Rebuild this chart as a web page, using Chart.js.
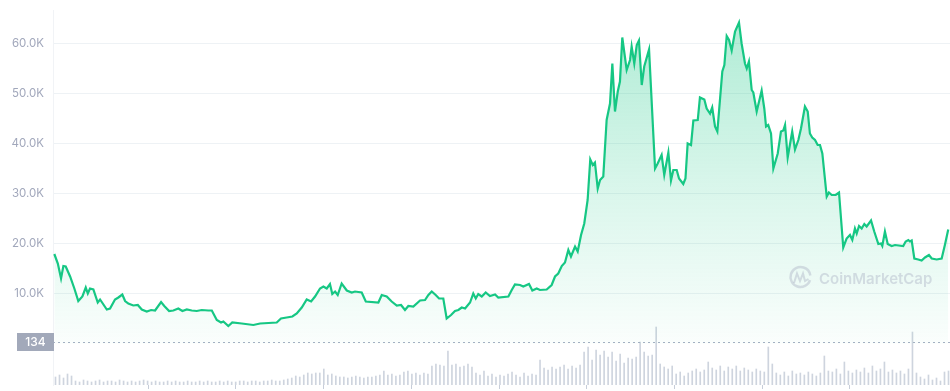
<!DOCTYPE html>
<html>
<head>
<meta charset="utf-8">
<script src="https://cdn.jsdelivr.net/npm/chart.js@4.4.1/dist/chart.umd.min.js"></script>
<style>
	html, body { margin: 0; padding: 0; background: #fff; }
	canvas { display: block; }
</style>
</head>
<body>
<canvas id="mycanvas" width="950" height="391"></canvas>
<script>
// x = months since Jan 2018, y = price in USD
var months = [
	-0.41, -0.17, 0.05, 0.21, 0.37, 0.67, 0.96, 1.23, 1.51, 1.74, 1.88, 2.03, 2.26, 2.56, 2.72,
	3.18, 3.40, 3.74, 3.97, 4.24, 4.43, 4.65, 4.99, 5.30, 5.57, 5.91, 6.21, 6.48, 6.89, 7.11,
	7.44, 7.73, 8.07, 8.35, 8.65, 8.99, 9.33, 9.67, 10.12, 10.36, 10.70, 10.99, 11.15, 11.49, 11.76,
	12.41, 13.20, 13.66, 14.80, 15.09, 15.48, 15.87, 16.17, 16.51, 16.85, 17.15, 17.42, 17.76, 17.99, 18.22,
	18.44, 18.60, 18.79, 18.97, 19.24, 19.59, 19.93, 20.15, 20.61, 20.89, 21.75, 21.98, 22.32, 22.66, 23.01,
	23.30, 23.57, 23.80, 24.14, 24.60, 24.94, 25.17, 25.40, 25.67, 25.90, 26.19, 26.42, 26.72, 26.99, 27.22,
	27.45, 27.68, 28.02, 28.24, 28.41, 28.58, 28.82, 29.09, 29.38, 29.73, 29.95, 30.64, 30.87, 31.09, 31.44,
	31.66, 32.05, 32.28, 32.58, 32.80, 33.26, 33.60, 33.83, 34.05, 34.29, 34.51, 34.74, 34.92, 35.20, 35.38,
	35.61, 35.83, 36.06, 36.24, 36.41, 36.56, 36.75, 36.91, 37.13, 37.36, 37.59, 37.75, 37.93, 38.12, 38.27,
	38.43, 38.73, 38.96, 39.07, 39.25, 39.42, 39.57, 39.76, 39.93, 40.26, 40.67, 40.85, 41.12, 41.30, 41.58,
	41.76, 41.92, 42.15, 42.31, 42.60, 42.75, 42.90, 43.13, 43.29, 43.59, 43.74, 44.04, 44.20, 44.43, 44.58,
	44.77, 44.93, 45.27, 45.41, 45.57, 45.73, 45.91, 46.14, 46.41, 46.59, 46.82, 46.94, 47.09, 47.28, 47.39,
	47.62, 47.96, 48.14, 48.26, 48.41, 48.60, 48.76, 49.06, 49.28, 49.44, 49.56, 49.74, 50.05, 50.24, 50.47,
	50.65, 50.92, 51.11, 51.26, 51.42, 51.61, 51.79, 51.95, 52.11, 52.41, 52.56, 52.75, 53.02, 53.25, 53.54,
	53.77, 54.00, 54.16, 54.34, 54.46, 54.62, 54.80, 54.98, 55.14, 55.44, 55.66, 55.94, 56.12, 56.21, 56.39,
	56.58, 56.85, 57.08, 57.64, 57.81, 57.99, 58.10, 58.22, 58.40, 58.67, 58.90, 59.13, 59.40, 59.59, 59.93,
	60.27, 60.49, 60.72
];
var prices = [
	17900, 16000, 13000, 15500, 15400, 13400, 11000, 8500, 9400, 11200, 10000, 11000, 10800, 8200, 8800,
	6800, 7000, 8800, 9200, 9800, 8500, 8000, 7600, 7700, 6800, 6400, 6700, 6600, 8300, 7500,
	6500, 6600, 7000, 6500, 6800, 6600, 6500, 6700, 6600, 6600, 4700, 4200, 4400, 3500, 4200,
	4000, 3700, 4000, 4200, 5000, 5200, 5400, 6000, 7200, 8800, 8400, 9400, 11000, 11400, 11000,
	11900, 9900, 10400, 9700, 12000, 10600, 10200, 10400, 10200, 8400, 8200, 9700, 9400, 8400, 7600,
	7700, 6700, 7500, 7400, 8600, 8700, 9700, 10400, 9700, 9000, 9000, 5000, 5700, 6500, 6700,
	7200, 7000, 8200, 10000, 9000, 9900, 9400, 10200, 9500, 9800, 9200, 9400, 10700, 11800, 11700,
	11400, 11900, 10600, 11000, 10700, 10800, 11700, 13400, 14000, 15500, 16200, 18700, 17400, 19400, 18400,
	21700, 24000, 28700, 36800, 35700, 36200, 31000, 32700, 33400, 44700, 48000, 56000, 46400, 50400, 52400,
	61200, 54700, 56700, 59400, 56000, 59700, 60600, 51700, 55400, 58800, 35000, 36000, 37700, 33700, 38200,
	32600, 34700, 34700, 33000, 31900, 33000, 40000, 39700, 44600, 44700, 49200, 48800, 47000, 46000, 47200,
	43400, 42400, 54400, 55700, 61500, 60700, 58600, 62400, 64200, 60000, 56000, 55000, 56400, 50700, 50200,
	46400, 50600, 47000, 43400, 43700, 42000, 35000, 38000, 42400, 42600, 43700, 37200, 42400, 38800, 40700,
	43000, 47400, 46400, 42000, 41200, 40700, 39700, 39700, 38000, 29400, 30200, 29700, 29700, 30200, 19200,
	21000, 21700, 20700, 23000, 22000, 23500, 23000, 23900, 23400, 24600, 22400, 19900, 20000, 19500, 22400,
	19900, 19500, 19700, 19500, 20400, 20700, 20400, 20600, 17000, 16800, 16600, 17200, 17700, 17000, 16800,
	17000, 19700, 22800
];
// volume, billions USD, one bar per period across the whole range
var volumes = [
	48, 60, 42, 66, 54,
	24, 18, 30, 24, 18, 24, 30, 18, 24, 24, 18, 30, 24, 18, 24, 18, 24, 30, 24,
	18, 24, 18, 18, 24, 18, 24, 18, 18, 24, 18, 18, 24, 18, 24, 18, 18, 24, 18, 24, 18, 18, 24,
	24, 18, 24, 24, 18, 24, 24, 30, 24, 24,
	30, 36, 42, 54, 48, 60, 72, 66, 72,
	72, 96, 60, 66, 54,
	48, 48, 42, 48, 54, 48, 42, 48, 48, 54, 60,
	84, 60, 66, 54, 60,
	78, 84, 66, 72, 60, 72, 66,
	114, 126, 120, 114, 204,
	120, 126, 108, 114, 126, 108,
	72, 60, 84, 54, 66, 48, 60,
	54, 66, 78, 60, 48, 72, 54, 66, 60,
	150, 102, 90, 108, 96,
	108, 120, 96, 114, 102, 120,
	198, 228, 150, 210,
	180, 204, 168, 198,
	144, 186, 132, 162, 156, 168,
	258, 198, 174, 180, 348,
	126, 108, 96, 114,
	66, 78, 54, 72,
	84, 96, 78, 90, 138,
	102, 90, 114, 84, 108,
	96, 114, 84, 102,
	90, 78, 96, 84,
	78, 228, 126,
	72, 60, 78, 54, 84, 66, 72, 60, 78, 66, 54, 72,
	174, 84,
	78, 96, 66, 138, 84, 72, 90, 78,
	102, 72, 114, 84, 96, 138, 78, 90,
	72, 84, 66, 96, 318,
	72, 48, 36, 60, 30, 42, 24,
	78, 84
];
var priceTicks = [10000, 20000, 30000, 40000, 50000, 60000];
var monthTicks = [6, 12, 18, 24, 30, 36, 42, 48, 54];
var startPrice = 134;

var green = '#16c784';

var extras = {
	id: 'extras',
	beforeDatasetsDraw: function(chart) {
		var ctx = chart.ctx, area = chart.chartArea;
		var y = Math.round(chart.scales.y.getPixelForValue(startPrice)) - 0.5;
		ctx.save();
		ctx.strokeStyle = '#a6b0c3';
		ctx.lineWidth = 1;
		ctx.setLineDash([2, 3]);
		ctx.beginPath();
		ctx.moveTo(area.left, y);
		ctx.lineTo(area.right, y);
		ctx.stroke();
		ctx.restore();
	},
	afterDatasetsDraw: function(chart) {
		var ctx = chart.ctx;
		// watermark
		ctx.save();
		ctx.strokeStyle = 'rgba(170,177,195,0.42)';
		ctx.fillStyle = 'rgba(170,177,195,0.42)';
		ctx.lineWidth = 2.5;
		ctx.beginPath();
		ctx.arc(800.5, 277, 10, 0.1 * Math.PI, 1.95 * Math.PI);
		ctx.stroke();
		ctx.lineWidth = 2;
		ctx.beginPath();
		ctx.moveTo(794, 283);
		ctx.lineTo(797, 273.5);
		ctx.lineTo(800, 281);
		ctx.lineTo(803, 273.5);
		ctx.lineTo(805, 281);
		ctx.lineTo(808.5, 279);
		ctx.stroke();
		ctx.font = '600 15px Inter';
		ctx.textBaseline = 'alphabetic';
		ctx.fillText('CoinMarketCap', 819, 284);
		ctx.restore();
	},
	afterDraw: function(chart) {
		var ctx = chart.ctx;
		var y = Math.round(chart.scales.y.getPixelForValue(startPrice));
		ctx.save();
		ctx.fillStyle = '#a2a9ba';
		ctx.fillRect(17, y - 10, 37, 18);
		ctx.fillStyle = '#ffffff';
		ctx.font = '500 12px Inter';
		ctx.textAlign = 'center';
		ctx.textBaseline = 'middle';
		ctx.fillText(String(startPrice), 35.5, y - 0.5);
		ctx.restore();
	}
};

var ctx = document.getElementById('mycanvas');

new Chart(ctx, {
	type: 'line',
	data: {
		labels: volumes.map(function(v, i) { return i; }),
		datasets: [
			{
				label: 'Price',
				data: months.map(function(m, i) { return { x: m, y: prices[i] }; }),
				xAxisID: 'x',
				yAxisID: 'y',
				borderColor: green,
				borderWidth: 2.2,
				pointRadius: 0,
				tension: 0,
				fill: 'origin',
				order: 1,
				backgroundColor: function(context) {
					var c = context.chart;
					if (!c.chartArea) return 'rgba(22,199,132,0.15)';
					var top = c.scales.y.getPixelForValue(65000);
					var bottom = c.scales.y.getPixelForValue(0);
					var g = c.ctx.createLinearGradient(0, top, 0, bottom);
					g.addColorStop(0, 'rgba(22,199,132,0.34)');
					g.addColorStop(0.5, 'rgba(22,199,132,0.17)');
					g.addColorStop(1, 'rgba(22,199,132,0.02)');
					return g;
				}
			},
			{
				type: 'bar',
				label: 'Volume',
				data: volumes,
				xAxisID: 'x2',
				yAxisID: 'y2',
				backgroundColor: 'rgba(166,176,195,0.55)',
				barThickness: 1,
				order: 2
			}
		]
	},
	options: {
		responsive: false,
		animation: false,
		devicePixelRatio: 1,
		layout: { padding: { top: 10, left: 0, right: 0, bottom: 0 } },
		plugins: {
			legend: { display: false },
			tooltip: { enabled: false }
		},
		scales: {
			x: {
				type: 'linear',
				min: -0.5,
				max: 60.84,
				afterBuildTicks: function(axis) {
					axis.ticks = monthTicks.map(function(m) { return { value: m }; });
				},
				afterFit: function(axis) {
					axis.height = 6;
					axis.paddingLeft = 0;
					axis.paddingRight = 0;
				},
				grid: {
					drawOnChartArea: false,
					drawTicks: true,
					tickLength: 4,
					color: '#c7cdd9'
				},
				border: { display: false },
				ticks: { display: false }
			},
			x2: {
				type: 'category',
				display: false,
				offset: true
			},
			y: {
				type: 'linear',
				position: 'left',
				min: -8300,
				max: 66700,
				afterBuildTicks: function(axis) {
					axis.ticks = priceTicks.map(function(v) { return { value: v }; });
				},
				afterFit: function(axis) {
					axis.width = 53;
					axis.paddingTop = 0;
					axis.paddingBottom = 0;
				},
				grid: {
					color: '#eef2f5',
					drawTicks: false,
					lineWidth: 1
				},
				border: { display: true, color: '#f1f3f6' },
				ticks: {
					padding: 9,
					color: '#a1a7bb',
					font: { family: 'Inter', size: 11.5 },
					callback: function(v) { return (v / 1000).toFixed(1) + 'K'; }
				}
			},
			y2: {
				type: 'linear',
				display: false,
				min: 0,
				max: 2250
			}
		}
	},
	plugins: [extras]
});
</script>
</body>
</html>
